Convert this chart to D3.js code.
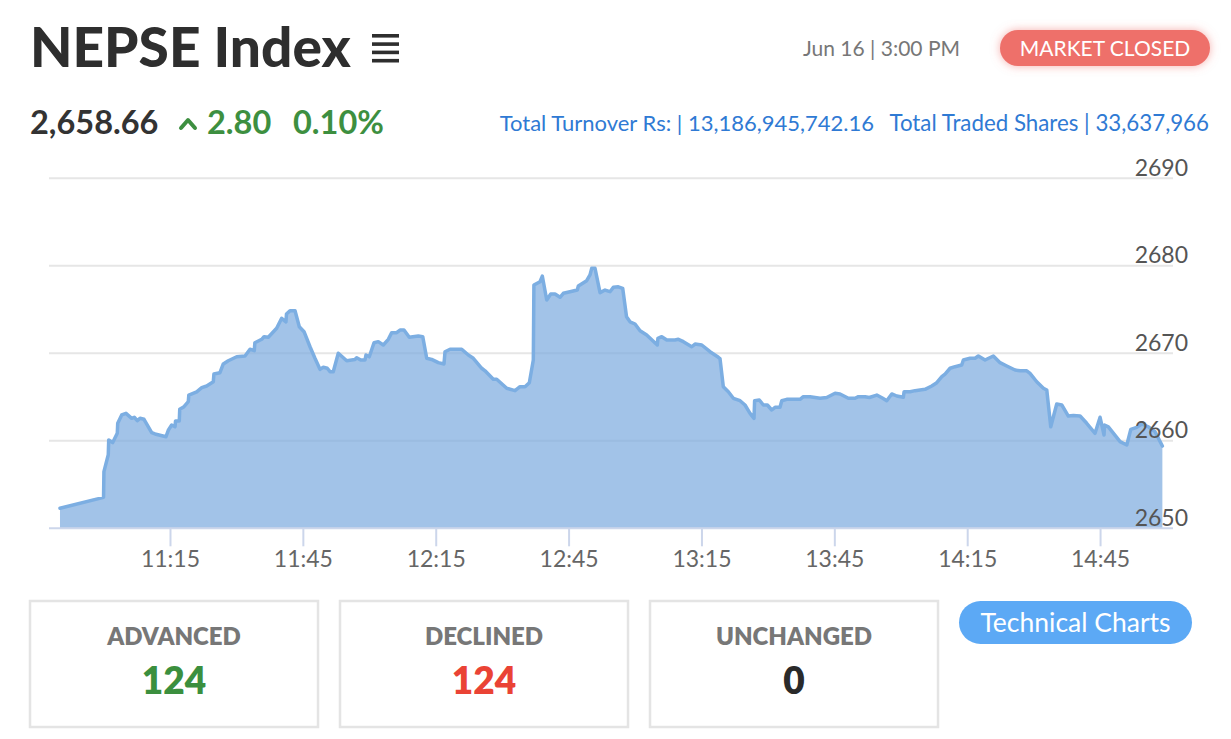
<!DOCTYPE html>
<html><head><meta charset="utf-8">
<script src="https://cdn.jsdelivr.net/npm/d3@7"></script>
<style>
html,body{margin:0;padding:0;background:#fff;}
svg{display:block;font-family:Lato,"Open Sans",sans-serif;}
</style></head>
<body><svg id="c" width="1231" height="739"></svg>
<script>
// ---- data ----
const times = ["10:50:10","11:00:00","11:00:05","11:01:04","11:01:10","11:02:04","11:03:06","11:03:12","11:04:06","11:05:04",
"11:06:21","11:06:56","11:07:37","11:08:14","11:09:08","11:10:52","11:11:37","11:14:06","11:14:37","11:15:23",
"11:16:08","11:16:15","11:17:06","11:17:12","11:18:10","11:19:08","11:19:15","11:21:02","11:22:10","11:23:17",
"11:24:47","11:24:55","11:26:17","11:27:02","11:28:10","11:30:04","11:31:56","11:33:04","11:34:02","11:34:10",
"11:35:43","11:36:14","11:37:12","11:39:05","11:40:13","11:41:11","11:41:18","11:42:06","11:43:14","11:44:12",
"11:45:16","11:46:37","11:47:44","11:48:52","11:49:37","11:50:31","11:51:08","11:51:52","11:53:00","11:54:54",
"11:56:46","11:57:09","11:58:04","11:59:02","11:59:15","12:00:00","12:01:04","12:02:02","12:03:10","12:04:18",
"12:05:04","12:06:11","12:06:56","12:07:50","12:09:02","12:11:04","12:12:04","12:12:58","12:14:05","12:15:35",
"12:16:52","12:17:06","12:18:14","12:20:52","12:22:22","12:23:29","12:25:23","12:26:08","12:28:00","12:28:46",
"12:31:02","12:32:54","12:34:02","12:35:10","12:36:08","12:37:02","12:37:10","12:38:33","12:39:04","12:40:04",
"12:40:58","12:41:56","12:43:04","12:43:49","12:45:19","12:46:58","12:47:12","12:49:05","12:49:50","12:50:13",
"12:50:58","12:52:06","12:53:14","12:54:21","12:55:06","12:56:14","12:57:13","12:58:05","12:58:52","13:00:00",
"13:01:08","13:02:38","13:05:02","13:05:10","13:06:02","13:07:10","13:09:02","13:09:47","13:10:55","13:12:48",
"13:13:33","13:15:04","13:16:56","13:18:49","13:19:11","13:19:56","13:21:04","13:22:12","13:23:43","13:24:50",
"13:25:58","13:26:52","13:27:00","13:28:04","13:28:58","13:29:53","13:30:52","13:31:37","13:32:44","13:33:08",
"13:34:15","13:37:16","13:38:00","13:39:31","13:41:47","13:43:17","13:45:10","13:46:17","13:48:10","13:49:41",
"13:50:26","13:51:56","13:52:55","13:54:35","13:55:56","13:56:50","13:57:58","13:59:06","14:00:35","14:00:45",
"14:02:06","14:03:14","14:05:29","14:07:00","14:08:08","14:09:16","14:10:00","14:11:08","14:12:16","14:13:46",
"14:14:08","14:15:39","14:16:46","14:17:31","14:19:02","14:20:54","14:22:25","14:23:56","14:25:48","14:26:56",
"14:28:27","14:29:11","14:30:42","14:32:12","14:32:58","14:33:52","14:35:13","14:36:21","14:37:50","14:38:58",
"14:40:29","14:41:59","14:43:52","14:45:00","14:45:54","14:46:00","14:46:52","14:49:31","14:51:02","14:51:56",
"14:53:17","14:54:25","14:55:55","14:57:25","14:59:04"];
const values = [2652.29,2653.54,2656.47,2658.40,2660.10,2659.80,2660.86,2662.00,2662.95,2663.14,
2662.57,2662.69,2662.30,2662.57,2662.46,2660.93,2660.78,2660.47,2661.20,2661.80,
2661.60,2662.26,2662.26,2663.60,2663.90,2664.47,2665.23,2665.60,2666.07,2666.26,
2666.75,2667.63,2667.78,2668.78,2669.15,2669.61,2669.69,2670.46,2670.30,2671.21,
2671.60,2671.90,2671.83,2672.86,2674.00,2673.60,2674.49,2674.87,2674.87,2673.04,
2672.47,2670.75,2669.43,2668.17,2668.40,2668.29,2667.90,2667.90,2670.00,2669.15,
2669.30,2669.50,2669.23,2669.23,2669.80,2669.60,2671.21,2671.33,2670.95,2671.60,
2672.36,2672.36,2672.66,2672.66,2671.83,2671.98,2671.90,2669.43,2669.30,2668.93,
2668.78,2670.18,2670.46,2670.46,2669.80,2669.43,2668.29,2668.00,2667.03,2667.03,
2666.00,2665.73,2666.18,2666.18,2666.64,2669.23,2677.80,2678.18,2678.83,2676.09,
2676.78,2676.78,2676.40,2676.86,2677.04,2677.23,2677.69,2678.30,2678.95,2679.71,
2679.71,2676.93,2677.23,2677.04,2677.54,2677.60,2677.43,2674.18,2673.60,2673.35,
2672.58,2672.09,2670.95,2671.71,2671.90,2671.52,2671.52,2671.60,2671.33,2670.75,
2671.06,2670.95,2670.18,2669.54,2669.40,2666.18,2665.61,2664.86,2664.58,2664.09,
2663.14,2662.57,2664.58,2664.66,2664.09,2664.09,2663.52,2663.83,2663.83,2664.58,
2664.74,2664.74,2665.04,2665.04,2664.86,2664.95,2665.43,2665.35,2664.86,2664.86,
2665.04,2665.04,2664.95,2665.23,2664.86,2664.58,2665.35,2665.12,2664.97,2665.61,
2665.61,2665.73,2665.88,2666.26,2666.64,2667.33,2667.63,2668.29,2668.47,2668.66,
2669.23,2669.43,2669.43,2669.69,2669.23,2669.69,2668.93,2668.55,2668.09,2668.00,
2668.00,2667.71,2666.75,2666.00,2665.80,2661.60,2664.20,2664.10,2662.83,2662.90,
2662.83,2662.00,2660.86,2662.69,2660.66,2661.80,2661.60,2659.90,2659.52,2661.31,
2661.54,2661.92,2661.60,2661.04,2659.40];
const yTicks = [2650,2660,2670,2680,2690];
const xTickLabels = ["11:15","11:45","12:15","12:45","13:15","13:45","14:15","14:45"];
const breadth = ["ADVANCED","DECLINED","UNCHANGED"];
const breadthValues = [124,124,0];

// ---- drawing ----
const svg = d3.select("#c");
const parse = d3.timeParse("%H:%M:%S");
const parseHM = d3.timeParse("%H:%M");
const data = times.map((t,i)=>({t:parse(t), v:values[i]}));

const defs = svg.append("defs");
const f = defs.append("filter").attr("id","glow").attr("x","-30%").attr("y","-60%").attr("width","160%").attr("height","220%");
f.append("feGaussianBlur").attr("in","SourceAlpha").attr("stdDeviation",5).attr("result","b");
f.append("feFlood").attr("flood-color","#ee6f6a").attr("flood-opacity",0.55);
f.append("feComposite").attr("in2","b").attr("operator","in").attr("result","s");
const fm = f.append("feMerge"); fm.append("feMergeNode").attr("in","s"); fm.append("feMergeNode").attr("in","SourceGraphic");

// header
svg.append("text").attr("x",30).attr("y",67).attr("font-size",55).attr("font-weight",900).attr("fill","#2e2e2e").text("NEPSE Index");
[0,1,2,3].forEach(i=>svg.append("rect").attr("x",372).attr("y",34+i*8.3).attr("width",27).attr("height",3.6).attr("fill","#2e2e2e"));

svg.append("text").attr("x",30).attr("y",134).attr("font-size",32.5).attr("font-weight",700).attr("fill","#333").text("2,658.66");
svg.append("path").attr("d","M181,128 L188,120 L195,128").attr("fill","none").attr("stroke","#3d8f40").attr("stroke-width",4).attr("stroke-linecap","round").attr("stroke-linejoin","round");
svg.append("text").attr("x",207).attr("y",134).attr("font-size",32.5).attr("font-weight",700).attr("fill","#3d8f40").text("2.80");
svg.append("text").attr("x",293).attr("y",134).attr("font-size",32.5).attr("font-weight",700).attr("fill","#3d8f40").text("0.10%");

svg.append("text").attr("x",960).attr("y",56).attr("text-anchor","end").attr("font-size",21).attr("fill","#777").text("Jun 16 | 3:00 PM");
svg.append("rect").attr("x",1000).attr("y",30).attr("width",210).attr("height",36).attr("rx",18).attr("fill","#ee706b").attr("filter","url(#glow)");
svg.append("text").attr("x",1105).attr("y",56).attr("text-anchor","middle").attr("font-size",21).attr("fill","#fff").text("MARKET CLOSED");

svg.append("text").attr("x",874).attr("y",131).attr("text-anchor","end").attr("font-size",22).attr("fill","#2f7ad4").text("Total Turnover Rs: | 13,186,945,742.16");
svg.append("text").attr("x",1209).attr("y",131).attr("text-anchor","end").attr("font-size",22.3).attr("fill","#2f7ad4").text("Total Traded Shares | 33,637,966");

// chart
const x = d3.scaleTime().domain([parse("10:47:41"), parse("15:01:28")]).range([49,1173]);
const y = d3.scaleLinear().domain([2650,2690]).range([528.3,178.3]);

const g = svg.append("g");
g.selectAll("line.grid").data(yTicks.slice(1)).join("line").attr("class","grid")
  .attr("x1",49).attr("x2",1173).attr("y1",d=>y(d)).attr("y2",d=>y(d)).attr("stroke","#e6e6e6").attr("stroke-width",2);

const area = d3.area().x(d=>x(d.t)).y0(y(2650)).y1(d=>y(d.v));
const line = d3.line().x(d=>x(d.t)).y(d=>y(d.v));
g.append("path").datum(data).attr("d",area).attr("fill","rgb(122,170,222)").attr("fill-opacity",0.7);
g.append("path").datum(data).attr("d",line).attr("fill","none").attr("stroke","rgb(124,174,226)").attr("stroke-width",3.5).attr("stroke-linejoin","round").attr("stroke-linecap","round");

// x axis
const xa = g.append("g").attr("transform",`translate(0,${y(2650)})`)
  .call(d3.axisBottom(x).tickValues(xTickLabels.map(parseHM)).tickFormat(d3.timeFormat("%H:%M")).tickSize(18).tickPadding(4));
xa.select(".domain").attr("stroke","#ccd6eb").attr("stroke-width",2).attr("d","M49,0H1173");
xa.selectAll(".tick line").attr("stroke","#ccd6eb").attr("stroke-width",2);
xa.selectAll(".tick text").attr("font-size",23).attr("fill","#666").attr("font-family","Lato");

// y labels
const ya = g.append("g").attr("transform","translate(1188,0)")
  .call(d3.axisLeft(y).tickValues(yTicks).tickSize(0).tickPadding(0).tickFormat(d3.format("d")));
ya.select(".domain").remove();
ya.selectAll(".tick text").attr("font-size",23).attr("fill","#555").attr("font-family","Lato").attr("dy","-0.14em");

// breadth boxes
const bx = [30,340,650];
const colors = ["#3b8f3e","#ea4335","#2a2a2a"];
breadth.forEach((b,i)=>{
  svg.append("rect").attr("x",bx[i]).attr("y",601).attr("width",288).attr("height",126).attr("fill","none").attr("stroke","#e4e4e4").attr("stroke-width",2.5);
  svg.append("text").attr("x",bx[i]+144).attr("y",645).attr("text-anchor","middle").attr("font-size",24).attr("font-weight",800).attr("fill","#777").text(b);
  svg.append("text").attr("x",bx[i]+144).attr("y",694).attr("text-anchor","middle").attr("font-size",37).attr("font-weight",800).attr("fill",colors[i]).text(breadthValues[i]);
});
svg.append("rect").attr("x",959).attr("y",601).attr("width",233).attr("height",43).attr("rx",21.5).attr("fill","#5ca9f5");
svg.append("text").attr("x",1075.5).attr("y",632).attr("text-anchor","middle").attr("font-size",26.5).attr("fill","#fff").text("Technical Charts");
</script></body></html>
